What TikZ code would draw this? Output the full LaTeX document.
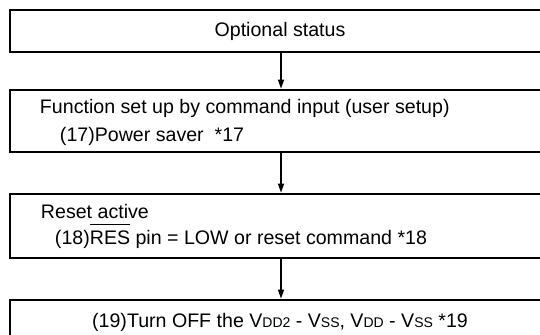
\documentclass[tikz,border=0pt]{standalone}
\usepackage{fontspec}
\setmainfont{Liberation Sans}
\usetikzlibrary{arrows.meta,calc}
\tikzset{
  flowlabel/.style={font=\fontsize{9.8bp}{12bp}\selectfont, inner sep=0pt},
  flowbox/.style={draw, line width=1.4bp, minimum width=271bp, inner sep=0pt},
  flowarrow/.style={-{Triangle[length=4.5bp,width=3bp]}, line width=0.7bp}
}
\newcommand{\pinsub}[1]{{\fontsize{7bp}{8bp}\selectfont #1}}
\newcommand{\barsig}[1]{\(\overline{\mbox{\rule{0pt}{8.6bp}#1}}\)}

\begin{document}
\begin{tikzpicture}[x=0.5bp, y=-0.5bp]
\useasboundingbox (0,0) rectangle (540,334);
\clip (0,0) rectangle (540,334);
% the four stages, cut off at the right edge
\node[flowbox, minimum height=21bp] (opt) at (281,31) {};
\node[flowbox, minimum height=31bp] (func) at (281,121) {};
\node[flowbox, minimum height=32bp] (reset) at (281,226) {};
\node[flowbox, minimum height=21bp] (off) at (281,321) {};
% texts
\node[flowlabel, anchor=base] (optTxt) at (280,36) {Optional status};
\node[flowlabel, anchor=base west] (funcA) at ($(func.north west)+(31,25)$) {Function set up by command input (user setup)};
\node[flowlabel, anchor=base west] (funcB) at ($(func.north west)+(51,53)$) {(17)Power saver~ *17};
\node[flowlabel, anchor=base west] (resetA) at ($(reset.north west)+(32,26)$) {Reset active};
\node[flowlabel, anchor=base west] (resetB) at ($(reset.north west)+(46,52)$) {(18)\barsig{RES} pin = LOW or reset command *18};
\node[flowlabel, anchor=base] (offTxt) at (280,327) {(19)Turn OFF the V\pinsub{DD2} - V\pinsub{SS}, V\pinsub{DD} - V\pinsub{SS} *19};
% arrows
\draw[flowarrow] (opt) -- (func);
\draw[flowarrow] (func) -- (reset);
\draw[flowarrow] (reset) -- (off);
\end{tikzpicture}
\end{document}
